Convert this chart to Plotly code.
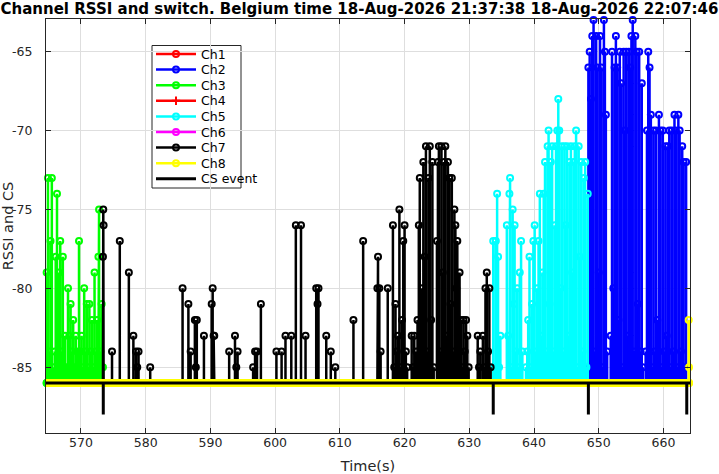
import plotly.graph_objects as go

# baseline level of the RSSI traces and the low end of a CS event tick
BASE = -86
CS_LOW = -88

x_range = [564.6, 664.1]
y_range = [-89.17, -62.93]
x_ticks = [570, 580, 590, 600, 610, 620, 630, 640, 650, 660]
y_ticks = [-85, -80, -75, -70, -65]

# sample times (s) and RSSI of each channel while it is active
ch1_t = []
ch1_v = []

ch2_t = [648.4, 648.5, 648.6, 648.8, 649.0, 649.2, 649.4, 649.6, 649.8, 650.0,
         650.2, 650.4, 650.6, 650.8, 650.95, 651.1, 651.3,
         651.85, 652.05, 652.25, 652.45, 652.65, 652.85, 653.05, 653.25, 653.45, 653.65, 653.85,
         654.05, 654.25, 654.45, 654.65, 654.85, 655.05, 655.25, 655.45, 655.65, 655.85,
         656.05, 656.25, 656.45, 656.65, 656.8,
         657.25, 657.45, 657.65, 657.85, 658.05, 658.25, 658.45, 658.65, 658.85, 659.05, 659.3,
         659.5, 659.7, 659.9, 660.1, 660.3, 660.5, 660.7, 660.9, 661.1, 661.3,
         661.5, 661.7, 661.9, 662.1, 662.3, 662.5, 662.7, 662.9, 663.1, 663.3,
         663.5]
ch2_v = [-66, -85, -65, -68, -64, -63, -84, -64, -66, -79,
         -64, -66, -85, -63, -65, -69, -84,
         -83, -65, -80, -66, -64, -66, -82, -65, -67, -85, -65,
         -70, -65, -83, -65, -66, -64, -63, -84, -64, -65,
         -81, -65, -84, -67, -85,
         -84, -70, -65, -66, -69, -85, -70, -84, -70, -82, -69,
         -70, -85, -70, -84, -71, -83, -71, -70, -85, -70,
         -84, -69, -70, -85, -69, -70, -84, -71, -72, -85,
         -72]

ch3_t = [564.7, 564.9, 565.1, 565.3, 565.5, 565.7,
         565.95, 566.1, 566.3, 566.5, 566.6, 566.8, 567.0, 567.2, 567.4, 567.55,
         567.8, 568.0, 568.2, 568.4, 568.6, 568.8, 569.0, 569.2, 569.4, 569.55, 569.7, 569.9,
         570.1, 570.3, 570.5, 570.7, 570.9, 571.1, 571.3, 571.5, 571.7, 571.9,
         572.1, 572.3, 572.5, 572.7, 572.8, 573.0, 573.2, 573.4]
ch3_v = [-79, -73, -84, -77, -73, -85,
         -84, -78, -74, -85, -79, -77, -84, -78, -85, -83,
         -85, -80, -83, -81, -84, -82, -85, -83, -85, -84, -77, -84,
         -83, -85, -80, -84, -81, -85, -81, -84, -82, -85,
         -79, -84, -82, -78, -75, -84, -81, -85]

ch4_t = []
ch4_v = []

ch5_t = [633.7, 633.9, 634.1, 634.3, 634.45, 634.6, 634.8,
         635.8, 636.0, 636.2, 636.3, 636.5, 636.7, 636.9, 637.0, 637.2, 637.4,
         637.6, 637.8, 638.0, 638.2,
         638.75, 638.95, 639.1, 639.3, 639.5, 639.7, 639.9, 640.1, 640.3, 640.5, 640.7,
         640.9, 641.1, 641.3, 641.5, 641.7, 641.9, 642.1, 642.25, 642.4, 642.6,
         642.8, 643.0, 643.2, 643.4, 643.6, 643.75, 643.9, 644.1, 644.3, 644.5,
         644.7, 644.9, 645.1, 645.3, 645.5, 645.7, 645.9, 646.1, 646.3, 646.5,
         646.7, 646.9, 647.1, 647.3, 647.5, 647.7, 647.9, 648.1, 648.3]
ch5_v = [-77, -85, -77, -74, -78, -85, -83,
         -76, -83, -74, -73, -85, -75, -81, -76, -84, -80,
         -85, -79, -77, -84,
         -85, -84, -82, -78, -85, -81, -77, -76, -84, -80, -77,
         -74, -83, -79, -74, -72, -84, -71, -70, -81, -72,
         -71, -84, -76, -71, -70, -68, -70, -80, -71, -84,
         -71, -76, -71, -83, -72, -71, -79, -72, -71, -70,
         -85, -71, -78, -72, -84, -73, -72, -85, -74]

ch6_t = []
ch6_v = []

ch7_t = [573.4, 573.45, 573.5,
         574.8, 576.0, 577.4, 578.1, 578.5, 578.7, 578.9, 580.7,
         585.7, 586.6, 586.95, 587.6, 587.75, 587.9, 589.0,
         590.2, 590.35, 590.5, 590.6, 592.9, 593.8, 594.0, 594.2,
         596.6, 596.9, 597.2, 597.8,
         600.2, 601.0, 601.6, 602.5, 603.2, 604.0, 604.7,
         606.35, 606.55, 606.7, 607.9, 608.6, 609.3, 612.1, 613.6,
         615.8, 615.9, 616.1, 616.3, 617.4,
         618.2, 618.4, 618.6, 618.8, 619.0, 619.2, 619.4, 619.6, 619.8, 620.0,
         620.2, 620.4, 621.1, 621.3, 621.5,
         621.8, 622.0, 622.2, 622.35, 622.5, 622.7, 622.9, 623.1, 623.3, 623.5,
         623.7, 623.9, 624.1, 624.3, 624.5,
         625.0, 625.15, 625.3, 625.5, 625.7, 625.9, 626.1, 626.3, 626.5, 626.7,
         626.9, 627.1, 627.3, 627.5, 627.7, 627.85, 628.0, 628.15, 628.3, 628.5,
         628.7, 628.9, 629.1, 629.3, 629.5, 629.7, 629.9,
         631.3, 631.5, 631.7, 631.9, 632.1, 632.3, 632.5, 632.7, 632.9, 633.1,
         633.3]
ch7_v = [-78, -75, -76,
         -84, -77, -79, -83, -84, -85, -84, -85,
         -80, -81, -84, -82, -85, -82, -83,
         -81, -80, -83, -83, -84, -83, -85, -84,
         -85, -84, -84, -81,
         -84, -84, -83, -83, -76, -76, -83,
         -80, -81, -80, -83, -84, -85, -82, -77,
         -80, -78, -80, -84, -80,
         -76, -85, -81, -84, -83, -75, -85, -82, -77, -76,
         -84, -85, -83, -85, -83,
         -84, -82, -76, -73, -85, -80, -72, -78, -71, -84,
         -73, -71, -82, -72, -85,
         -77, -72, -71, -84, -71, -79, -72, -71, -83, -72,
         -73, -81, -73, -84, -75, -76, -80, -77, -85, -79,
         -82, -85, -82, -84, -82, -83, -85,
         -83, -85, -84, -86, -83, -85, -80, -79, -84, -80,
         -85]

ch8_t = [663.9, 663.95]
ch8_v = [-82, -85]

cs_t = [573.45, 633.7, 648.4, 663.6]

channels = [
    ("Ch1", ch1_t, ch1_v, "#ff0000", "circle-open"),
    ("Ch2", ch2_t, ch2_v, "#0000ff", "circle-open"),
    ("Ch3", ch3_t, ch3_v, "#00ff00", "circle-open"),
    ("Ch4", ch4_t, ch4_v, "#ff0000", "cross-thin-open"),
    ("Ch5", ch5_t, ch5_v, "#00ffff", "circle-open"),
    ("Ch6", ch6_t, ch6_v, "#ff00ff", "circle-open"),
    ("Ch7", ch7_t, ch7_v, "#000000", "circle-open"),
    ("Ch8", ch8_t, ch8_v, "#ffff00", "circle-open"),
]


def stems(t, v):
    # between two samples the channel falls back to the baseline
    xs, ys = [], []
    for ti, vi in zip(t, v):
        xs += [ti, ti, ti]
        ys += [BASE, vi, BASE]
    return xs, ys


fig = go.Figure()

for name, t, v, color, symbol in channels:
    xs, ys = stems(t, v)
    fig.add_trace(go.Scatter(
        x=xs, y=ys, name=name, mode="lines+markers", cliponaxis=False, showlegend=False,
        line=dict(color=color, width=2.5),
        marker=dict(symbol=symbol, size=6, color=color, line=dict(width=2, color=color)),
    ))

# Ch8 rests on the baseline over the whole window
fig.add_trace(go.Scatter(
    x=x_range, y=[BASE, BASE], mode="lines", showlegend=False,
    line=dict(color="#ffff00", width=8),
))

cs_x, cs_y = [x_range[0]], [BASE]
for t in cs_t:
    cs_x += [t, t, t]
    cs_y += [BASE, CS_LOW, BASE]
cs_x.append(x_range[1])
cs_y.append(BASE)
fig.add_trace(go.Scatter(
    x=cs_x, y=cs_y, name="CS event", mode="lines", showlegend=False,
    line=dict(color="#000000", width=3),
))

# legend box drawn by hand (MATLAB style, tight rows)
PLOT_L, PLOT_R, PLOT_T, PLOT_B = 46, 690, 19, 433


def px_to_paper(px, py):
    return (px - PLOT_L) / (PLOT_R - PLOT_L), (PLOT_B - py) / (PLOT_B - PLOT_T)


box_x0, box_y1 = px_to_paper(152, 45.5)
box_x1, box_y0 = px_to_paper(241, 188)
fig.add_shape(type="rect", xref="paper", yref="paper", x0=box_x0, x1=box_x1, y0=box_y0, y1=box_y1,
              fillcolor="white", line=dict(color="#262626", width=1), layer="between")

legend_items = [(name, color, symbol) for name, _, _, color, symbol in channels] + [("CS event", "#000000", None)]
for i, (name, color, symbol) in enumerate(legend_items):
    row_y = 54 + 15.6 * i
    lx0, ly = px_to_paper(156, row_y)
    lx1, _ = px_to_paper(196, row_y)
    lxm, _ = px_to_paper(176, row_y)
    tx, _ = px_to_paper(199, row_y)
    if symbol is None:
        fig.add_trace(go.Scatter(x=[lx0, lx1], y=[ly, ly], mode="lines", xaxis="x2", yaxis="y2",
                                 showlegend=False, cliponaxis=False, hoverinfo="skip",
                                 line=dict(color=color, width=3)))
    else:
        fig.add_trace(go.Scatter(x=[lx0, lxm, lx1], y=[ly, ly, ly], mode="lines+markers", xaxis="x2", yaxis="y2",
                                 showlegend=False, cliponaxis=False, hoverinfo="skip",
                                 line=dict(color=color, width=2.5),
                                 marker=dict(symbol=symbol, size=6, color=color, opacity=[0, 1, 0],
                                             line=dict(width=2, color=color))))
    fig.add_annotation(x=tx, y=ly, xref="paper", yref="paper", text=name, showarrow=False,
                       xanchor="left", yanchor="middle",
                       font=dict(family="DejaVu Sans", size=12.5, color="#000000"))

axis_style = dict(
    showline=True, linecolor="#262626", linewidth=1, mirror="allticks",
    ticks="inside", ticklen=5, tickcolor="#262626", automargin=False,
    showgrid=True, gridcolor="#dedede", gridwidth=1, zeroline=False,
    tickfont=dict(family="DejaVu Sans", size=12.5, color="#262626"),
)

fig.update_xaxes(
    range=x_range, tickvals=x_ticks, ticktext=[str(x) for x in x_ticks], ticklabelstandoff=-2,
    title=dict(text="Time(s)", font=dict(family="DejaVu Sans", size=14.5, color="#262626")),
    **axis_style,
)
fig.update_yaxes(
    range=y_range, tickvals=y_ticks, ticktext=[str(y) for y in y_ticks], ticklabelstandoff=10,
    title=dict(text="RSSI and CS", font=dict(family="DejaVu Sans", size=14.5, color="#262626")),
    **axis_style,
)

fig.update_layout(
    width=719, height=474,
    margin=dict(l=PLOT_L, r=719 - PLOT_R, t=PLOT_T, b=474 - PLOT_B),
    paper_bgcolor="white", plot_bgcolor="white",
    xaxis2=dict(overlaying="x", anchor="y2", range=[0, 1], visible=False),
    yaxis2=dict(overlaying="y", anchor="x2", range=[0, 1], visible=False),
    title=dict(
        text="<b>Channel RSSI and switch. Belgium time 18-Aug-2026 21:37:38 18-Aug-2026 22:07:46</b>",
        x=0.5, xref="container", xanchor="center", y=0.981, yref="container", yanchor="middle",
        font=dict(family="DejaVu Sans", size=15, color="#000000"),
    ),
    showlegend=False,
)

# drop the browser's default page margin so the figure sits at the window corner
fig.write_html("out.html", config={"displayModeBar": False},
               post_script="document.body.style.margin = '0px';")
